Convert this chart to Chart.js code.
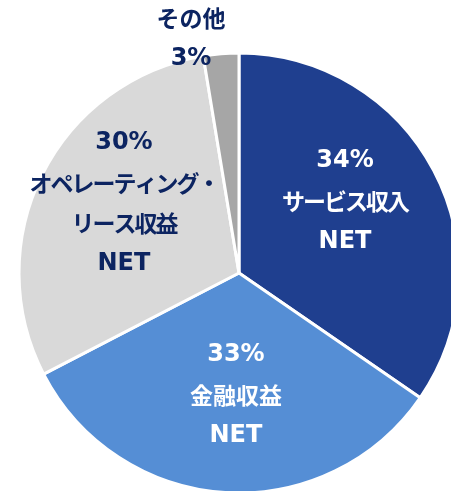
<!DOCTYPE html>
<html><head><meta charset="utf-8">
<script src="https://cdn.jsdelivr.net/npm/chart.js@4/dist/chart.umd.min.js"></script>
<style>
html,body{margin:0;padding:0;overflow:hidden;background:#fff;width:451px;height:491px}
#wrap{position:absolute;left:0;top:0}
</style></head><body>
<div id="wrap"><canvas id="c" width="478" height="546"></canvas></div>
<script>
const categories = ['サービス収入 NET', '金融収益 NET', 'オペレーティング・リース収益 NET', 'その他'];
const values = [34.6, 32.8, 30.0, 2.6];
const percentLabels = ['34%', '33%', '30%', '3%'];
const nameLines = [['サービス収入', 'NET'], ['金融収益', 'NET'], ['オペレーティング・', 'リース収益', 'NET'], ['その他']];
const nameFirst = [false, false, false, true];

const sliceColors = ['#1F3F8F', '#558ED5', '#D9D9D9', '#A6A6A6'];
const textColors = ['#FFFFFF', '#FFFFFF', '#0C2461', '#0C2461'];
// label block centre, as fraction of radius relative to pie centre
const labelOffsets = [[0.482, -0.328], [-0.014, 0.558], [-0.523, -0.318], [-0.218, -1.064]];

const latinFont = 'bold 24px "DejaVu Sans", sans-serif';
const cjkFont = 'bold 23px "Noto Sans CJK JP", sans-serif';

const labelPlugin = {
  id: 'sliceLabels',
  afterDatasetsDraw(chart) {
    const ctx = chart.ctx;
    const meta = chart.getDatasetMeta(0);
    ctx.save();
    ctx.textAlign = 'center';
    ctx.textBaseline = 'middle';
    const lh = 40.5;
    meta.data.forEach((arc, i) => {
      const p = arc.getProps(['x', 'y', 'outerRadius'], true);
      const R = p.outerRadius;
      const cx = p.x + labelOffsets[i][0] * R;
      const cy = p.y + labelOffsets[i][1] * R;
      const lines = nameFirst[i] ? [...nameLines[i], percentLabels[i]] : [percentLabels[i], ...nameLines[i]];
      const y0 = cy - (lines.length - 1) * lh / 2;
      ctx.fillStyle = textColors[i];
      lines.forEach((t, k) => {
        const cjk = /[^\x00-\x7F]/.test(t);
        const kana = /[\u30A0-\u30FF]/.test(t);
        ctx.font = cjk ? cjkFont : latinFont;
        ctx.letterSpacing = kana ? '-2px' : '0px';
        ctx.fillText(t, cx, y0 + k * lh);
      });
    });
    ctx.restore();
  }
};

new Chart(document.getElementById('c'), {
  type: 'pie',
  data: {
    labels: categories,
    datasets: [{
      data: values,
      backgroundColor: sliceColors,
      borderColor: '#FFFFFF',
      borderWidth: 3,
      hoverOffset: 0
    }]
  },
  options: {
    responsive: false,
    animation: false,
    layout: { padding: { left: 17.5, right: 17.5, top: 51.5, bottom: 51.5 } },
    plugins: { legend: { display: false }, tooltip: { enabled: false } }
  },
  plugins: [labelPlugin]
});
</script>
</body></html>
